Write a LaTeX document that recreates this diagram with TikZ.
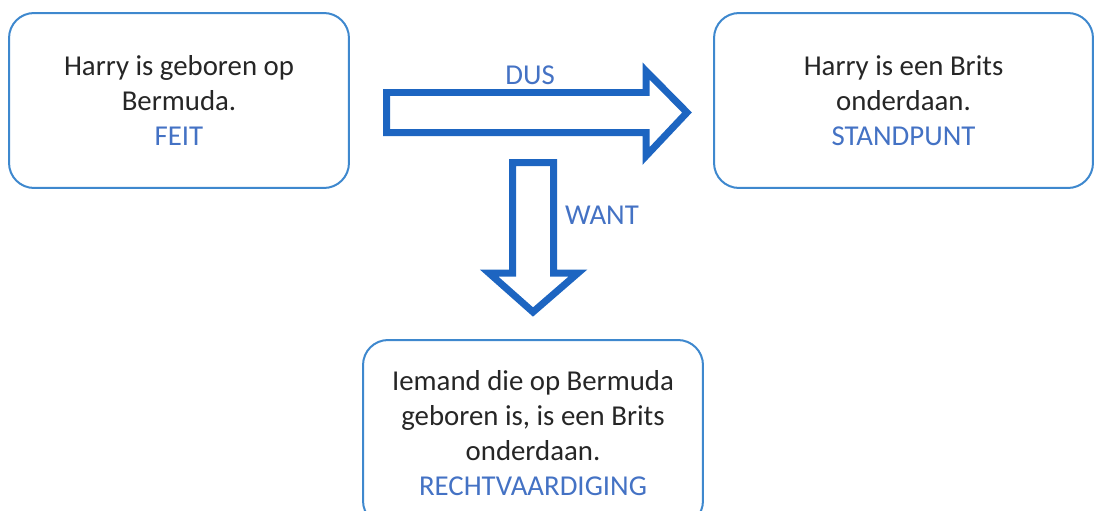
\documentclass[tikz,border=0pt]{standalone}
\usepackage{fontspec}
\setmainfont{Carlito}
\usetikzlibrary{positioning}
\definecolor{boxblue}{RGB}{62,136,206}
\definecolor{arrowblue}{RGB}{29,101,193}
\definecolor{tagblue}{RGB}{68,114,196}
\definecolor{bodygray}{RGB}{38,38,38}
\newcommand{\tagtext}[1]{\textcolor{tagblue}{#1}}

\begin{document}
\begin{tikzpicture}[x=0.02cm,y=-0.02cm,line width=0.3mm,
    claim/.style={draw=boxblue,line width=0.04cm,rounded corners=0.5cm,
      minimum height=3.5cm,align=center,text=bodygray,
      font=\fontsize{16.4}{19.9}\selectfont},
    blockarrow/.style={draw=arrowblue,line width=0.14cm,miter limit=10},
    tag/.style={text=tagblue,font=\fontsize{16.4}{19.9}\selectfont}]
    \useasboundingbox (0,0) rectangle (1094,510);
    \node [claim,minimum width=6.8cm] (feit) at (179,100.5) {Harry is geboren op\\Bermuda.\\\tagtext{FEIT}};
    \node [claim,minimum width=7.58cm] (standpunt) at (903.5,100.5) {Harry is een Brits\\onderdaan.\\\tagtext{STANDPUNT}};
    \node [claim,minimum width=6.8cm,minimum height=3.72cm] (recht) at (533,433) {Iemand die op Bermuda\\geboren is, is een Brits\\onderdaan.\\\tagtext{RECHTVAARDIGING}};
    \coordinate (D1) at (386.5,92.5);
    \coordinate (D2) at (646,92.5);
    \coordinate (D3) at (646,71);
    \coordinate (D4) at (687,112.5);
    \coordinate (D5) at (646,156);
    \coordinate (D6) at (646,132.5);
    \coordinate (D7) at (386.5,132.5);
    \draw [blockarrow] (D1) -- (D2) -- (D3) -- (D4) -- (D5) -- (D6) -- (D7) -- cycle;
    \coordinate (W1) at (512.5,162.5);
    \coordinate (W2) at (553.5,162.5);
    \coordinate (W3) at (553.5,273);
    \coordinate (W4) at (578,273);
    \coordinate (W5) at (533,312);
    \coordinate (W6) at (489,273);
    \coordinate (W7) at (512.5,273);
    \draw [blockarrow] (W1) -- (W2) -- (W3) -- (W4) -- (W5) -- (W6) -- (W7) -- cycle;
    \node [tag] (dus) at (530,75) {DUS};
    \node [tag] (want) at (602,215) {WANT};
\end{tikzpicture}
\end{document}
